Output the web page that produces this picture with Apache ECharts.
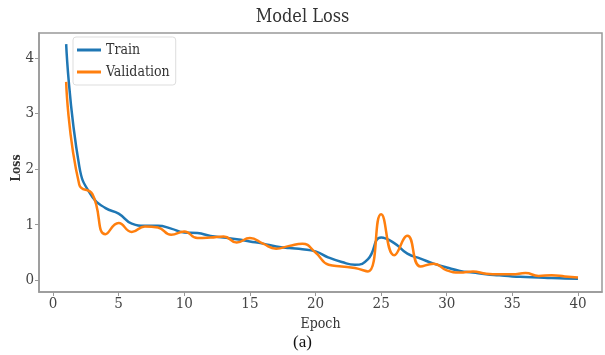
<!DOCTYPE html>
<html>
<head>
<meta charset="utf-8">
<script src="https://cdn.jsdelivr.net/npm/echarts@6/dist/echarts.min.js"></script>
<style>
  html, body { margin: 0; padding: 0; background: #fff; }
  #main { width: 605px; height: 355px; }
</style>
</head>
<body>
<div id="main"></div>
<script>
var epochs = [];
for (var i = 1; i <= 40; i++) epochs.push(i);

var trainLoss = [4.25, 2.05, 1.5, 1.3, 1.2, 1.02, 0.98, 0.98, 0.93, 0.86,
                 0.85, 0.8, 0.77, 0.74, 0.7, 0.66, 0.61, 0.58, 0.56, 0.52,
                 0.41, 0.33, 0.28, 0.38, 0.77, 0.67, 0.48, 0.39, 0.3, 0.23,
                 0.17, 0.14, 0.11, 0.09, 0.07, 0.06, 0.05, 0.04, 0.035, 0.03];

var valLoss = [3.57, 1.72, 1.55, 0.83, 1.03, 0.87, 0.97, 0.95, 0.82, 0.88,
               0.76, 0.77, 0.79, 0.68, 0.76, 0.66, 0.57, 0.62, 0.66, 0.5,
               0.28, 0.25, 0.22, 0.16, 1.19, 0.45, 0.8, 0.25, 0.3, 0.18,
               0.14, 0.16, 0.12, 0.11, 0.11, 0.13, 0.08, 0.09, 0.07, 0.05];

var xTicks = [0, 5, 10, 15, 20, 25, 30, 35, 40];
var yTicks = [0, 1, 2, 3, 4];

function pairs(vals) {
  return epochs.map(function (e, i) { return [e, vals[i]]; });
}

var serif = "'DejaVu Serif Condensed', 'DejaVu Serif', serif";
var lineIcon = 'path://M0,0 L24,0 L24,3 L0,3 Z';
var myChart = echarts.init(document.getElementById('main'));

myChart.setOption({
  animation: false,
  title: {
    text: 'Model Loss',
    left: 'center',
    top: 3,
    textStyle: { fontFamily: serif, fontWeight: 'normal', fontSize: 18, color: '#333' }
  },
  graphic: [{
    type: 'text',
    left: 'center',
    top: 334,
    style: { text: '(a)', font: "17px 'Liberation Serif', serif", fill: '#111' }
  }, {
    // y axis title, placed by hand
    type: 'text',
    x: 17,
    y: 168,
    rotation: Math.PI / 2,
    style: {
      text: 'Loss',
      font: "bold 12px 'DejaVu Serif Condensed', 'DejaVu Serif', serif",
      fill: '#333',
      align: 'center',
      verticalAlign: 'middle'
    }
  }],
  legend: {
    orient: 'vertical',
    left: 73,
    top: 37,
    padding: [6, 6, 6, 4],
    icon: lineIcon,
    itemWidth: 24,
    itemHeight: 3,
    itemGap: 8,
    borderColor: '#ddd',
    borderWidth: 1,
    borderRadius: 3,
    backgroundColor: '#fff',
    textStyle: { fontFamily: serif, fontSize: 14, lineHeight: 14, color: '#333' },
    data: ['Train', 'Validation']
  },
  grid: {
    left: 39, right: 3, top: 33, bottom: 63,
    outerBoundsMode: 'none',
    containLabel: false,
    show: true,
    borderColor: '#999',
    borderWidth: 1.5
  },
  xAxis: {
    type: 'value',
    min: -1.07,
    max: 41.83,
    name: 'Epoch',
    nameLocation: 'middle',
    nameGap: 25,
    nameTextStyle: { fontFamily: serif, fontSize: 14, color: '#333' },
    axisLine: { onZero: false, lineStyle: { color: '#999', width: 1.5 } },
    axisTick: { customValues: xTicks, length: 4, lineStyle: { color: '#999' } },
    axisLabel: { customValues: xTicks, fontFamily: serif, fontSize: 15, color: '#444', margin: 5 },
    splitLine: { show: false }
  },
  yAxis: {
    type: 'value',
    min: -0.21,
    max: 4.45,
    axisLine: { show: true, onZero: false, lineStyle: { color: '#999', width: 1.5 } },
    axisTick: { show: true, customValues: yTicks, length: 4, lineStyle: { color: '#999' } },
    axisLabel: { customValues: yTicks, fontFamily: serif, fontSize: 15, color: '#444', margin: 5 },
    splitLine: { show: false }
  },
  series: [{
    name: 'Train',
    type: 'line',
    data: pairs(trainLoss),
    smooth: 0.5,
    symbol: 'none',
    lineStyle: { color: '#1f77b4', width: 2.5 },
    itemStyle: { color: '#1f77b4' }
  }, {
    name: 'Validation',
    type: 'line',
    data: pairs(valLoss),
    smooth: 0.5,
    symbol: 'none',
    lineStyle: { color: '#ff7f0e', width: 2.5 },
    itemStyle: { color: '#ff7f0e' }
  }]
});
</script>
</body>
</html>
